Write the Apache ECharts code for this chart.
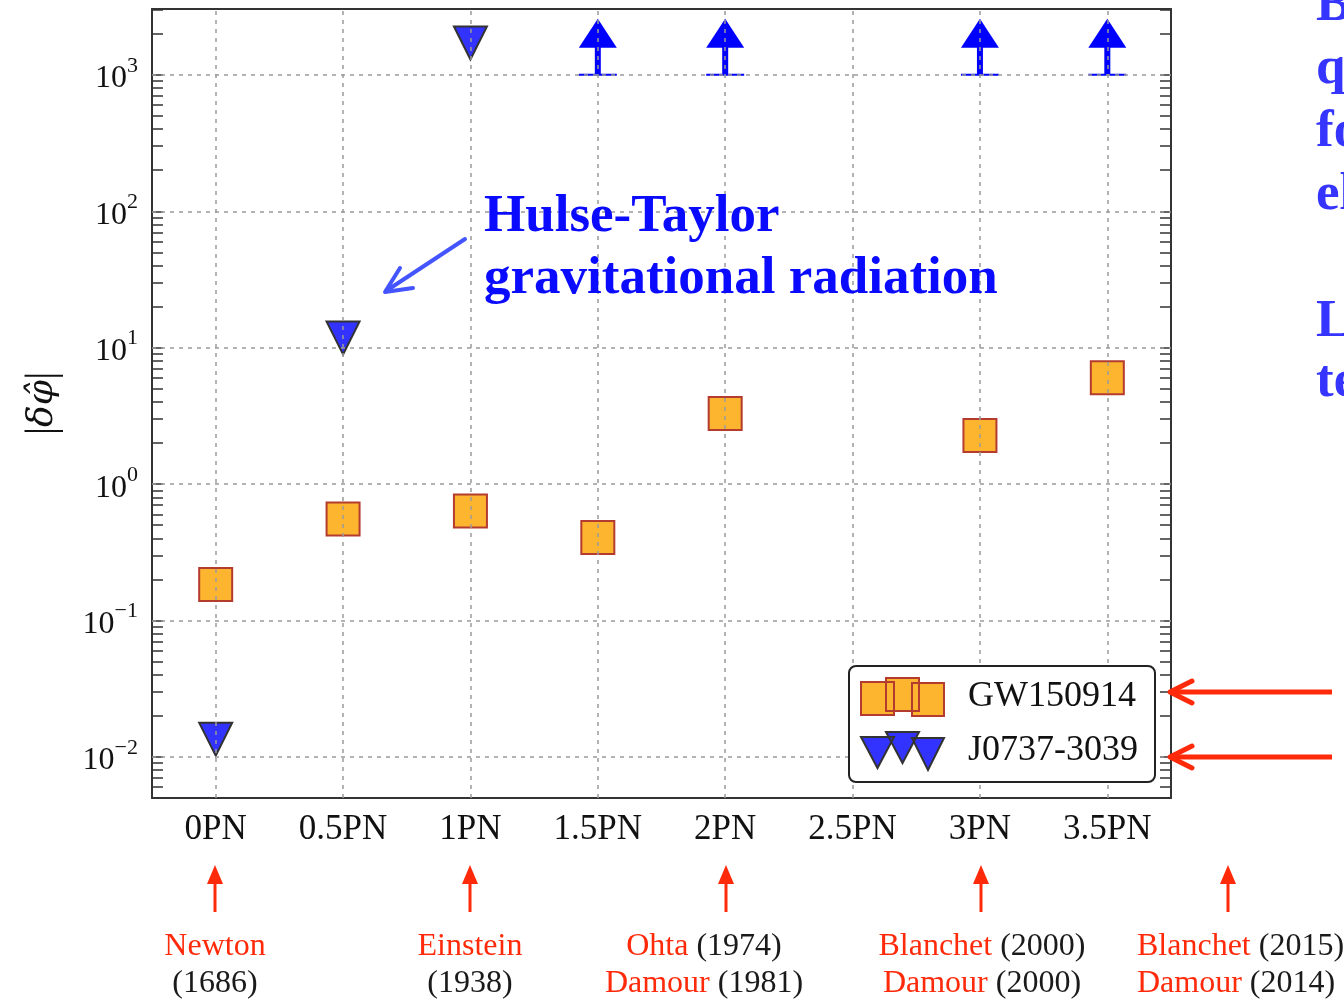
<!DOCTYPE html>
<html>
<head>
<meta charset="utf-8">
<script src="https://cdn.jsdelivr.net/npm/echarts@6/dist/echarts.min.js"></script>
<style>
html,body{margin:0;padding:0;background:#fff;}
#chart{width:1344px;height:1000px;}
</style>
</head>
<body>
<div id="chart"></div>
<script>
// ---------------- data ----------------
const categories = ['0PN', '0.5PN', '1PN', '1.5PN', '2PN', '2.5PN', '3PN', '3.5PN'];
// GW150914 bounds |delta phi| (null = no point)
const gwValues = [0.184, 0.554, 0.634, 0.406, 3.29, null, 2.27, 6.03];
// J0737-3039 bounds
const pulsarValues = [0.0135, 11.8, 1714, null, null, null, null, null];
// J0737-3039 off-scale bounds (shown as arrows from this level)
const pulsarOffScale = [null, null, null, 1000, 1000, null, 1000, 1000];
const yMajorExponents = [-2, -1, 0, 1, 2, 3];
const yMin = 0.005, yMax = 3040;

const historyLabels = [
  { line1: [['Newton', 'r']], line2: [['(1686)', 'k']] },
  { line1: [['Einstein', 'r']], line2: [['(1938)', 'k']] },
  { line1: [['Ohta', 'r'], [' (1974)', 'k']], line2: [['Damour', 'r'], [' (1981)', 'k']] },
  { line1: [['Blanchet', 'r'], [' (2000)', 'k']], line2: [['Damour', 'r'], [' (2000)', 'k']] },
  { line1: [['Blanchet', 'r'], [' (2015)', 'k']], line2: [['Damour', 'r'], [' (2014)', 'k']] }
];
const sideText = ['B', 'q', 'fo', 'el', 'L', 'te'];

// ---------------- helpers ----------------
const SERIF = '"Liberation Serif", "Times New Roman", serif';
const lg = v => Math.log10(v);
const toPairs = arr => arr.map((v, i) => v == null ? null : [i, lg(v)]).filter(p => p);

const lo = lg(yMin), hi = lg(yMax);
const allTicks = [];
for (let n = -3; n <= 3; n++) {
  for (let k = 1; k <= 9; k++) {
    const t = n + Math.log10(k);
    if (t >= lo - 1e-9 && t <= hi + 1e-9) allTicks.push(t);
  }
}
const supText = e => (e < 0 ? '\u2212' + (-e) : '' + e);

const RED = '#ff2a0a';
const tickStyle = { color: '#333', width: 1.5 };
const axisLineStyle = { color: '#333', width: 2 };

const chart = echarts.init(document.getElementById('chart'), null, { renderer: 'canvas' });

const gridLineData = [];
categories.forEach((c, i) => gridLineData.push({ xAxis: i }));
yMajorExponents.forEach(e => gridLineData.push({ yAxis: e }));

// annotation graphics
const graphics = [];
graphics.push({
  type: 'text', x: 484, y: 186, z: 20,
  style: { text: 'Hulse-Taylor\ngravitational radiation', fontFamily: SERIF, fontWeight: 'bold',
    fontSize: 53, lineHeight: 62, fill: '#0a0aff', align: 'left', verticalAlign: 'top' }
});
graphics.push({ type: 'line', z: 20, shape: { x1: 465, y1: 239, x2: 386, y2: 291 },
  style: { stroke: '#4455ff', lineWidth: 4, lineCap: 'round' } });
graphics.push({ type: 'polyline', z: 20, shape: { points: [[400, 268], [385, 292], [413, 288]] },
  style: { stroke: '#4455ff', lineWidth: 4, lineCap: 'round', lineJoin: 'round', fill: null } });
const sideY = [6, 69, 132, 195, 322, 382];
sideText.forEach((t, i) => graphics.push({
  type: 'text', x: 1316, y: sideY[i], z: 20,
  style: { text: t, fontFamily: SERIF, fontWeight: 'bold', fontSize: 53, fill: '#3535ff',
    align: 'left', verticalAlign: 'middle' }
}));
[692, 757].forEach(y => {
  graphics.push({ type: 'line', z: 20, shape: { x1: 1332, y1: y, x2: 1171, y2: y },
    style: { stroke: RED, lineWidth: 5 } });
  graphics.push({ type: 'polyline', z: 20, shape: { points: [[1192, y - 11], [1170, y], [1192, y + 11]] },
    style: { stroke: RED, lineWidth: 5, lineCap: 'round', lineJoin: 'round', fill: null } });
});
const arrowX = [215, 470, 726, 981, 1228];
const labelX = [215, 470, 704, 982, 1137];
const labelAlign = ['center', 'center', 'center', 'center', 'left'];
arrowX.forEach(x => {
  graphics.push({ type: 'rect', z: 20, shape: { x: x - 1.5, y: 880, width: 3, height: 32 },
    style: { fill: RED } });
  graphics.push({ type: 'polygon', z: 20, shape: { points: [[x - 8, 884], [x + 8, 884], [x, 865]] },
    style: { fill: RED } });
});
const richDef = { r: { fill: RED, fontFamily: SERIF, fontSize: 32 }, k: { fill: '#1a1a1a', fontFamily: SERIF, fontSize: 32 } };
const toRich = parts => parts.map(p => '{' + p[1] + '|' + p[0] + '}').join('');
historyLabels.forEach((h, i) => {
  [[h.line1, 947], [h.line2, 984]].forEach(([parts, y]) => {
    graphics.push({ type: 'text', x: labelX[i], y: y, z: 20,
      style: { text: toRich(parts), rich: richDef, fontFamily: SERIF, fontSize: 32,
        align: labelAlign[i], verticalAlign: 'middle' } });
  });
});

const option = {
  animation: false,
  backgroundColor: '#fff',
  grid: { left: 152, right: 173, top: 9, bottom: 202, containLabel: false },
  legend: {
    data: [
      { name: 'GW150914', icon: 'path://M0,4h33v33h-33z M25,0h33v33h-33z M51,5h32v33h-32z' },
      { name: 'J0737-3039', icon: 'path://M0,5h33l-16.5,31z M25,0h33l-16.5,31z M51,6h32l-16,32z' }
    ],
    orient: 'vertical', left: 849, top: 666, z: 10, symbolRotate: 0,
    backgroundColor: '#fff', borderColor: '#222', borderWidth: 2, borderRadius: 7,
    padding: [11, 17, 11, 11], itemWidth: 83, itemHeight: 38, itemGap: 14,
    textStyle: { fontFamily: SERIF, fontSize: 36, color: '#111', padding: [0, 0, 0, 19], lineHeight: 38 },
    selectedMode: false
  },
  xAxis: [{
    type: 'category', data: categories, position: 'bottom', boundaryGap: true,
    axisLine: { onZero: false, lineStyle: axisLineStyle },
    axisTick: { inside: true, alignWithLabel: true, length: 11, lineStyle: tickStyle },
    axisLabel: { fontFamily: SERIF, fontSize: 35, color: '#111', margin: 14, interval: 0 },
    splitLine: { show: false }
  }, {
    type: 'category', data: categories, position: 'top', boundaryGap: true,
    axisLine: { onZero: false, lineStyle: axisLineStyle },
    axisTick: { inside: true, alignWithLabel: true, length: 11, lineStyle: tickStyle },
    axisLabel: { show: false },
    splitLine: { show: false }
  }],
  yAxis: [{
    type: 'value', position: 'left', min: lo, max: hi,
    name: '{n||}{i|\u03B4\u03C6\u0302}{n||}', nameLocation: 'middle', nameRotate: 90, nameGap: 88,
    nameTextStyle: { rich: {
      n: { fontFamily: SERIF, fontSize: 42, color: '#111' },
      i: { fontFamily: '"DejaVu Serif", serif', fontSize: 36, fontStyle: 'italic', color: '#111' } } },
    axisLine: { show: true, onZero: false, lineStyle: axisLineStyle },
    axisTick: { show: true, inside: true, length: 11, lineStyle: tickStyle, customValues: allTicks },
    axisLabel: {
      customValues: yMajorExponents, margin: 14,
      formatter: v => '{b|10}{s|' + supText(Math.round(v)) + '}',
      rich: {
        b: { fontFamily: SERIF, fontSize: 32, color: '#111', lineHeight: 40, verticalAlign: 'bottom' },
        s: { fontFamily: SERIF, fontSize: 22, color: '#111', verticalAlign: 'top', lineHeight: 24 }
      }
    },
    splitLine: { show: false }
  }, {
    type: 'value', position: 'right', min: lo, max: hi,
    axisLine: { show: true, onZero: false, lineStyle: axisLineStyle },
    axisTick: { show: true, inside: true, length: 11, lineStyle: tickStyle, customValues: allTicks },
    axisLabel: { show: false },
    splitLine: { show: false }
  }],
  series: [{
    name: 'GW150914', type: 'scatter', xAxisIndex: 0, yAxisIndex: 0, z: 2,
    symbol: 'rect', symbolSize: 33,
    itemStyle: { color: '#fdb42f', borderColor: '#b43c2f', borderWidth: 2, opacity: 1 },
    emphasis: { disabled: true },
    data: toPairs(gwValues)
  }, {
    name: 'J0737-3039', type: 'scatter', xAxisIndex: 0, yAxisIndex: 0, z: 2,
    symbol: 'triangle', symbolRotate: 180, symbolSize: 33,
    itemStyle: { color: '#3333ff', borderColor: '#333', borderWidth: 2, opacity: 1 },
    emphasis: { disabled: true },
    data: toPairs(pulsarValues)
  }, {
    name: 'J0737-3039 off-scale', type: 'custom', xAxisIndex: 0, yAxisIndex: 0, z: 2,
    renderItem: function (params, api) {
      const p = api.coord([api.value(0), api.value(1)]);
      const c = '#0000ff';
      return { type: 'group', children: [
        { type: 'rect', shape: { x: p[0] - 19, y: p[1] - 1, width: 38, height: 2 }, style: { fill: c } },
        { type: 'rect', shape: { x: p[0] - 3, y: p[1] - 29, width: 6, height: 29 }, style: { fill: c } },
        { type: 'polygon', shape: { points: [[p[0] - 19, p[1] - 27], [p[0] + 19, p[1] - 27], [p[0], p[1] - 56]] }, style: { fill: c } }
      ] };
    },
    data: toPairs(pulsarOffScale)
  }, {
    name: 'grid', type: 'line', xAxisIndex: 0, yAxisIndex: 0, data: [],
    markLine: {
      silent: true, symbol: ['none', 'none'], animation: false, z: 5,
      label: { show: false },
      lineStyle: { color: '#9a9a9a', type: [4, 5], width: 1.5 },
      emphasis: { disabled: true },
      data: gridLineData
    }
  }],
  graphic: graphics
};
chart.setOption(option);
</script>
</body>
</html>
